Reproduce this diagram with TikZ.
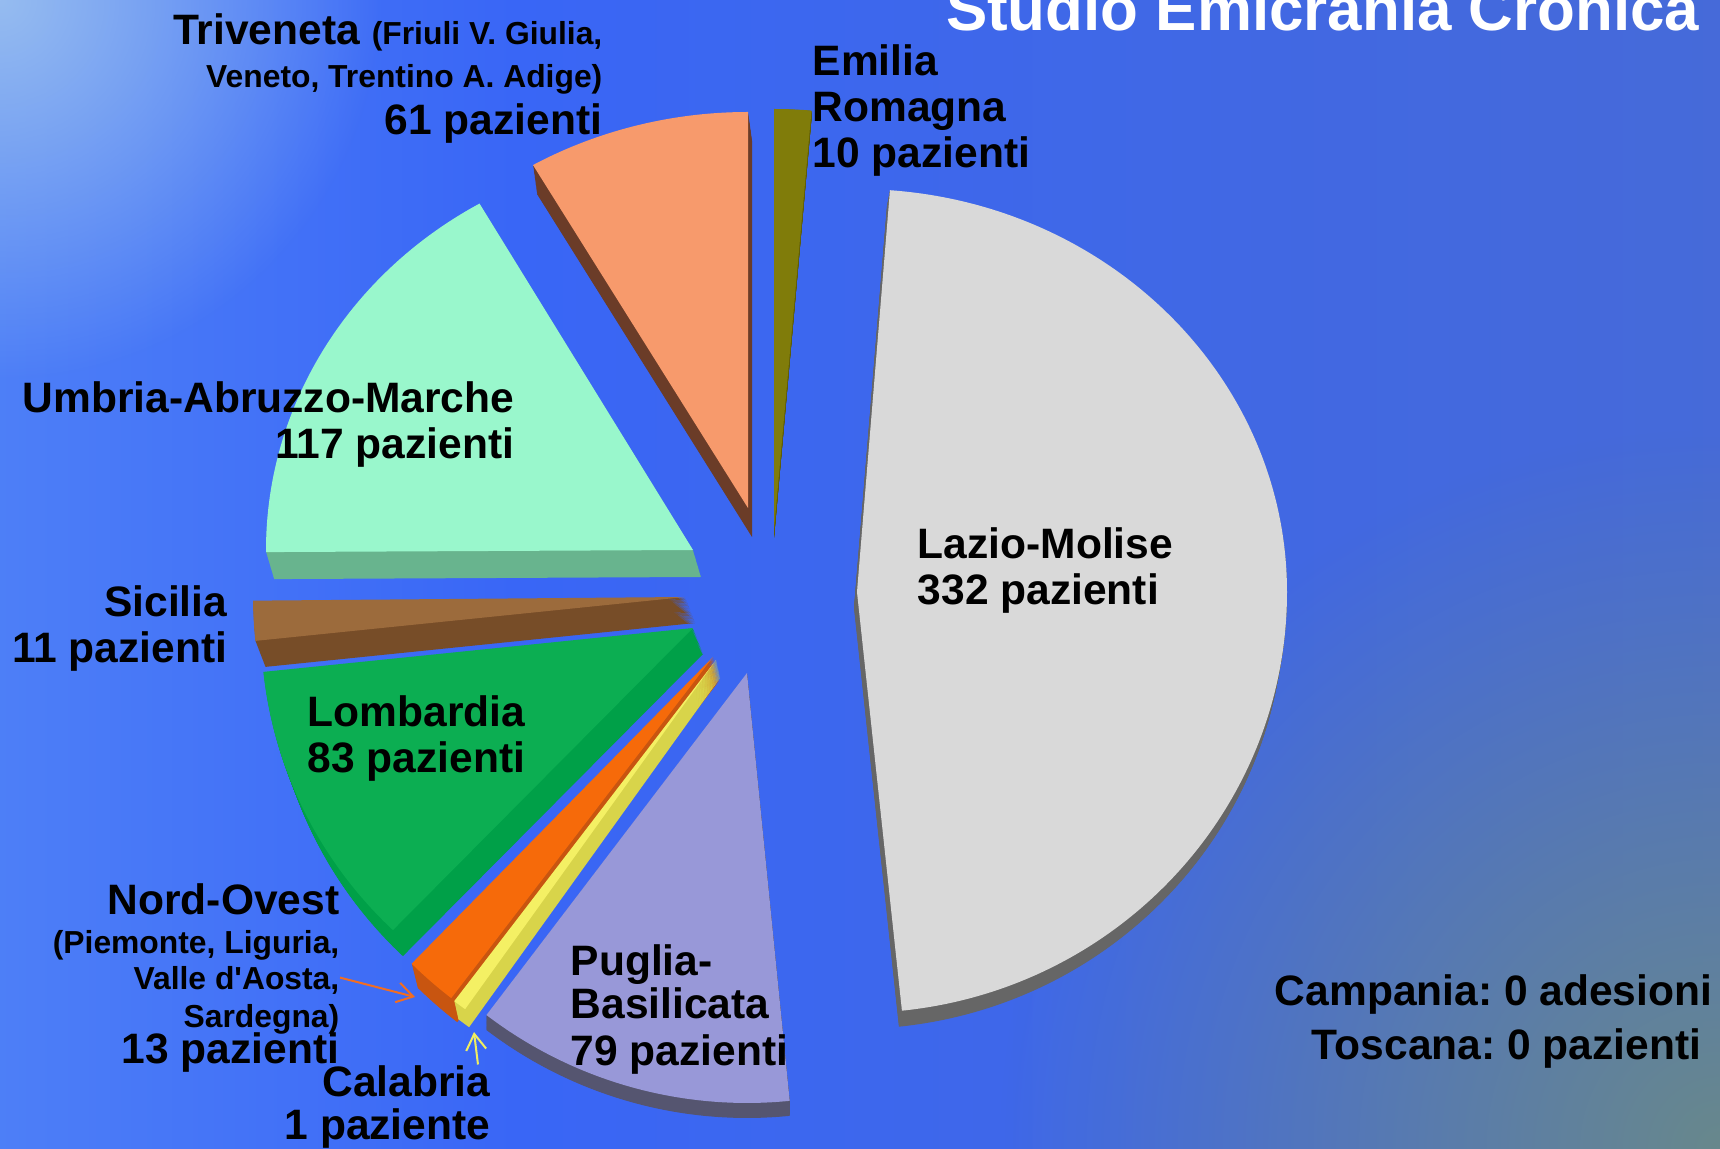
\documentclass[tikz,border=0pt]{standalone}
\usepackage{fontspec}
\setmainfont{Liberation Sans}
\usetikzlibrary{arrows.meta,fadings}
\frenchspacing

\definecolor{bgA}{HTML}{6E9CF6}
\definecolor{bgB}{HTML}{5487F8}
\definecolor{bgC}{HTML}{3966F6}
\definecolor{bgD}{HTML}{4469DC}
\definecolor{bgE}{HTML}{4E70CA}
\definecolor{bgcorner}{HTML}{96BCF0}
\definecolor{bgteal}{HTML}{68888C}
\definecolor{laziotop}{HTML}{D9D9D9}
\definecolor{laziosd}{HTML}{666666}
\definecolor{emiliatop}{HTML}{807C0A}
\definecolor{emiliasd}{HTML}{605D08}
\definecolor{trivenetatop}{HTML}{F79A6C}
\definecolor{trivenetasd}{HTML}{6B3C28}
\definecolor{umbriatop}{HTML}{99F7CC}
\definecolor{umbriasd}{HTML}{68B48E}
\definecolor{siciliatop}{HTML}{9C6B3C}
\definecolor{siciliasd}{HTML}{774D28}
\definecolor{lombardiatop}{HTML}{0CAE52}
\definecolor{lombardiasd}{HTML}{00A048}
\definecolor{nordovesttop}{HTML}{F66A0A}
\definecolor{nordovestsd}{HTML}{C85510}
\definecolor{calabriatop}{HTML}{F4F064}
\definecolor{calabriasd}{HTML}{D8D44A}
\definecolor{pugliatop}{HTML}{9898D8}
\definecolor{pugliasd}{HTML}{555570}
\definecolor{arrowor}{HTML}{F26D21}
\definecolor{arrowye}{HTML}{F0EE60}

\pgfdeclarehorizontalshading{bgshade}{100bp}{color(0bp)=(bgA); color(20bp)=(bgB);
  color(40bp)=(bgC); color(70bp)=(bgD); color(100bp)=(bgE)}
\tikzfading[name=softspot, inner color=transparent!0, outer color=transparent!100]

\newcommand{\smalltxt}{\fontsize{9.05}{10.5}\selectfont}
\newcommand{\wedgepath}[4]{(0,0) -- (-#1:#3 and #4)
  arc[start angle=-#1, end angle=-#2, x radius=#3, y radius=#4] -- cycle}
\newcommand{\slab}[6]{%
  \foreach \k in {24,23,...,1}
    \fill [#4, shift={(#1)}, shift={({\k*#5/24},{\k*#6/24})}] #2;
  \fill [#3, shift={(#1)}] #2;
}

\tikzset{
  region/.style={font=\fontsize{12.1}{13.1}\selectfont\bfseries, inner sep=0pt},
  pointer/.style={line width=0.57pt, -{Straight Barb[length=0.16cm,width=0.2cm]}}
}

\begin{document}
\begin{tikzpicture}[x=0.01cm, y=-0.01cm]
\useasboundingbox (0,0) rectangle (1720,1149);
\clip (0,0) rectangle (1720,1149);

\shade [shading=bgshade] (0,0) rectangle (1720,1149);
\fill [bgteal, path fading=softspot] (1720,1149) circle (720);
\fill [bgcorner, path fading=softspot] (0,0) circle (380);

\node [region, anchor=base east, text=white,
       font=\fontsize{17.6}{20}\selectfont\bfseries] (title) at (1700,31)
    {Studio Emicrania Cronica};

\slab{774,530}{\wedgepath{85}{90}{430}{421}}{emiliatop}{emiliasd}{0}{8}
\slab{748,508}{\wedgepath{90}{120}{430}{396}}{trivenetatop}{trivenetasd}{4}{29}
\slab{693,550}{\wedgepath{120}{180.3}{427}{400}}{umbriatop}{umbriasd}{8}{27}
\slab{685,597}{\wedgepath{180.5}{186}{432}{420}}{siciliatop}{siciliasd}{10}{26}
\slab{693,628}{\wedgepath{186}{226}{432}{420}}{lombardiatop}{lombardiasd}{10}{26}
\slab{713,657}{\wedgepath{225.5}{232.5}{430}{430}}{nordovesttop}{nordovestsd}{6}{24}
\slab{716,660}{\wedgepath{232.5}{234.3}{430}{430}}{calabriatop}{calabriasd}{4}{18}
\slab{747,673}{\wedgepath{232.7}{275.7}{430}{430}}{pugliatop}{pugliasd}{0}{15}
\slab{857,592}{(0,0) -- (84:430 and 421)
  arc[start angle=84, end angle=0, x radius=430, y radius=421]
  arc[start angle=0, end angle=-85.6, x radius=430, y radius=403] -- cycle}
  {laziotop}{laziosd}{-3}{16}

\node [region, anchor=north east, align=right] (triveneta) at (603,12.5)
    {Triveneta {\smalltxt(Friuli V. Giulia,}\\[-0.6pt]
     {\smalltxt Veneto, Trentino A. Adige)}\\
     61 pazienti};
\node [region, anchor=north west, align=left] (emilia) at (812,43.5)
    {Emilia\\ Romagna\\ 10 pazienti};
\node [region, anchor=north east, align=right] (umbria) at (515,381)
    {Umbria-Abruzzo-Marche\\ 117 pazienti};
\node [region, anchor=north east, align=right] (sicilia) at (228,584.5)
    {Sicilia\\ 11 pazienti};
\node [region, anchor=north west, align=left] (lombardia) at (307,694.5)
    {Lombardia\\ 83 pazienti};
\node [region, anchor=north west, align=left] (lazio) at (917,526.5)
    {Lazio-Molise\\ 332 pazienti};
\node [region, anchor=north west, align=left] (puglia) at (570,943.5)
    {Puglia-\\[-0.6pt] Basilicata\\ 79 pazienti};
\node [region, anchor=north east, align=right] (nordovest) at (340,882.5)
    {Nord-Ovest\\[-2pt]
     {\smalltxt(Piemonte, Liguria,}\\[-2.85pt]
     {\smalltxt Valle d\textquotesingle Aosta,}\\[-2.3pt]
     {\smalltxt Sardegna)}\\[-2.85pt]
     13 pazienti};
\node [region, anchor=north east, align=right] (calabria) at (491,1064.5)
    {Calabria\\[-0.85pt] 1 paziente};
\node [region, anchor=north east, align=right] (campania) at (1713,973.5)
    {Campania: 0 adesioni\\[2.3pt] Toscana: 0 pazienti\hspace*{0.11cm}};

\coordinate (nordovest-tip) at (415,997);
\coordinate (calabria-tip) at (474,1032);
\draw [pointer, arrowor] (nordovest.east) -- (nordovest-tip);
\draw [pointer, arrowye] ([xshift=-0.13cm]calabria.north east) -- (calabria-tip);
\end{tikzpicture}
\end{document}
